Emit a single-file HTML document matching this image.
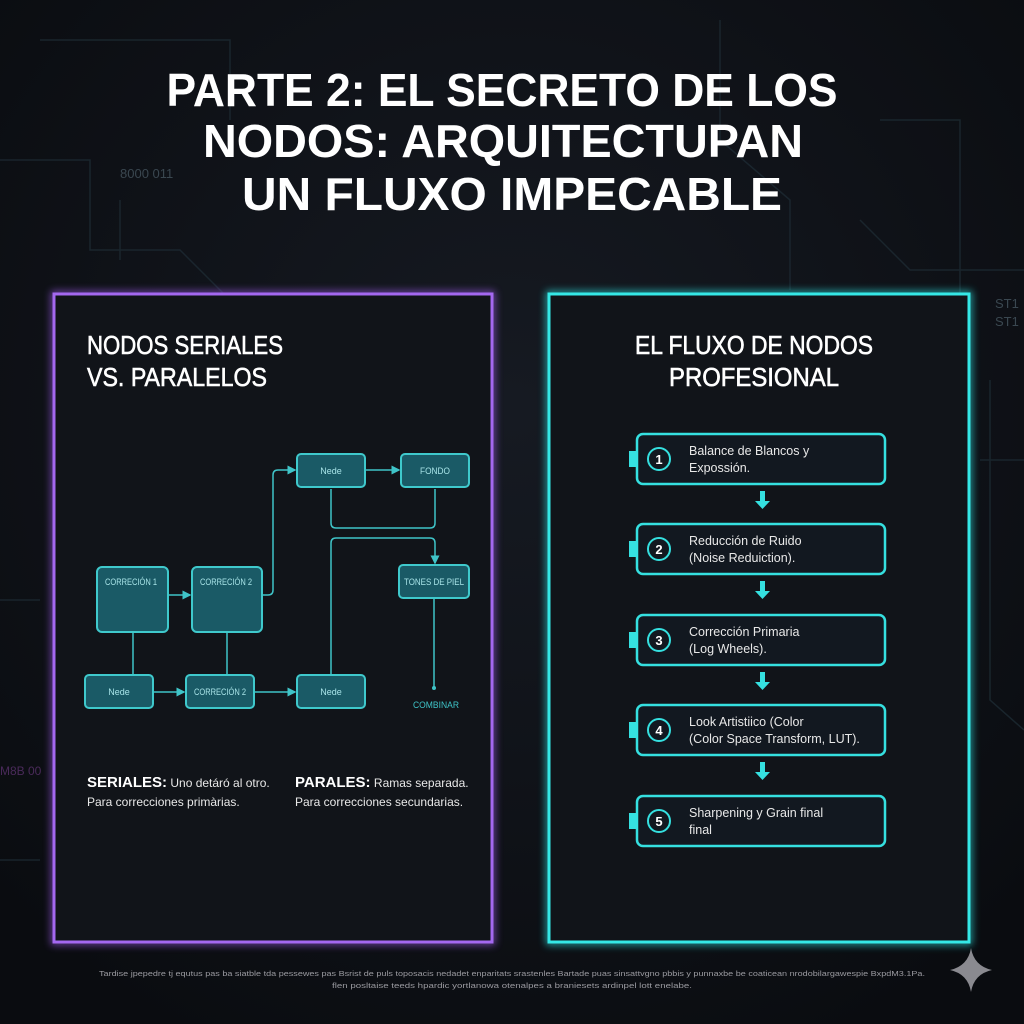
<!DOCTYPE html>
<html><head><meta charset="utf-8"><style>
html,body{margin:0;padding:0;background:#0d0f14;}
svg{display:block}
text{font-family:"Liberation Sans",sans-serif}
</style></head><body>
<svg width="1024" height="1024" viewBox="0 0 1024 1024" xmlns="http://www.w3.org/2000/svg">
<defs>
<radialGradient id="bg" cx="50%" cy="40%" r="70%"><stop offset="0" stop-color="#161a22"/><stop offset="1" stop-color="#0a0c10"/></radialGradient>
<filter id="glow" x="-10%" y="-10%" width="120%" height="120%"><feGaussianBlur stdDeviation="4"/></filter>
<marker id="ar" markerWidth="6" markerHeight="6" refX="5" refY="3" orient="auto"><path d="M0,0L6,3L0,6z" fill="#3fc4c8"/></marker>
</defs>
<rect width="1024" height="1024" fill="url(#bg)"/>
<g stroke="#1d2a33" stroke-width="1.5" fill="none" opacity="0.8">
<path d="M0,160H90V250H180L230,300V520"/><path d="M40,40H230V120"/><path d="M720,20V140L790,200V290"/><path d="M880,120H960V300"/><path d="M860,220L910,270H1024"/><path d="M0,600H40"/><path d="M990,380V700L1024,730"/><path d="M120,200V260"/><path d="M980,460H1024"/><path d="M0,860H40"/>
</g>
<text x="120" y="178" fill="#3a4750" font-size="13">8000 011</text>
<text x="995" y="308" fill="#3a4750" font-size="13">ST1</text>
<text x="995" y="326" fill="#3a4750" font-size="13">ST1</text>
<text x="0" y="775" fill="#4a2a5a" font-size="12">M8B 00</text>
<g fill="#fff" font-weight="bold" font-size="46" text-anchor="middle">
<text x="502" y="106" textLength="671" lengthAdjust="spacingAndGlyphs">PARTE 2: EL SECRETO DE LOS</text>
<text x="503" y="157" textLength="600" lengthAdjust="spacingAndGlyphs">NODOS: ARQUITECTUPAN</text>
<text x="512" y="210" textLength="540" lengthAdjust="spacingAndGlyphs">UN FLUXO IMPECABLE</text>
</g>
<rect x="54" y="294" width="438" height="648" fill="none" stroke="#9b5ce8" stroke-width="6" filter="url(#glow)" opacity="0.7"/>
<rect x="54" y="294" width="438" height="648" fill="#111419" stroke="#a468f0" stroke-width="3"/>
<rect x="549" y="294" width="420" height="648" fill="none" stroke="#2ee6e6" stroke-width="6" filter="url(#glow)" opacity="0.7"/>
<rect x="549" y="294" width="420" height="648" fill="#111419" stroke="#35e8e6" stroke-width="3"/>
<g fill="#fff" font-size="26" stroke="#fff" stroke-width="0.6">
<text x="87" y="354" textLength="196" lengthAdjust="spacingAndGlyphs">NODOS SERIALES</text>
<text x="87" y="386" textLength="180" lengthAdjust="spacingAndGlyphs">VS. PARALELOS</text>
<text x="754" y="354" text-anchor="middle" textLength="238" lengthAdjust="spacingAndGlyphs">EL FLUXO DE NODOS</text>
<text x="754" y="386" text-anchor="middle" textLength="170" lengthAdjust="spacingAndGlyphs">PROFESIONAL</text>
</g>
<g stroke="#3fc4c8" stroke-width="1.5" fill="none">
<path d="M168,595H190" marker-end="url(#ar)"/>
<path d="M262,595H268Q273,595 273,590V475Q273,470 278,470H295" marker-end="url(#ar)"/>
<path d="M365,470H399" marker-end="url(#ar)"/>
<path d="M331,489V523Q331,528 336,528H430Q435,528 435,523V489"/>
<path d="M331,675V543Q331,538 336,538H430Q435,538 435,543V563" marker-end="url(#ar)"/>
<path d="M434,598V688"/>
<path d="M133,632V675M227,632V675"/>
<path d="M153,692H184" marker-end="url(#ar)"/>
<path d="M254,692H295" marker-end="url(#ar)"/>
</g>
<circle cx="434" cy="688" r="2" fill="#3fc4c8"/>
<g fill="#1a5a66" stroke="#3fc9cc" stroke-width="2">
<rect x="297" y="454" width="68" height="33" rx="4"/>
<rect x="401" y="454" width="68" height="33" rx="4"/>
<rect x="97" y="567" width="71" height="65" rx="5"/>
<rect x="192" y="567" width="70" height="65" rx="5"/>
<rect x="399" y="565" width="70" height="33" rx="4"/>
<rect x="85" y="675" width="68" height="33" rx="4"/>
<rect x="186" y="675" width="68" height="33" rx="4"/>
<rect x="297" y="675" width="68" height="33" rx="4"/>
</g>
<g fill="#a8e4e8" font-size="9" text-anchor="middle">
<text x="331" y="474">Nede</text><text x="435" y="474" textLength="30" lengthAdjust="spacingAndGlyphs">FONDO</text>
<text x="131" y="585" textLength="52" lengthAdjust="spacingAndGlyphs">CORRECIÓN 1</text><text x="226" y="585" textLength="52" lengthAdjust="spacingAndGlyphs">CORRECIÓN 2</text>
<text x="434" y="585" textLength="60" lengthAdjust="spacingAndGlyphs">TONES DE PIEL</text>
<text x="119" y="695">Nede</text><text x="220" y="695" textLength="52" lengthAdjust="spacingAndGlyphs">CORRECIÓN 2</text><text x="331" y="695">Nede</text>
<text x="436" y="708" fill="#3fc4c8" textLength="46" lengthAdjust="spacingAndGlyphs">COMBINAR</text>
</g>
<g fill="#e8e8e8" font-size="12">
<text x="87" y="787"><tspan font-weight="bold" font-size="15" fill="#fff">SERIALES:</tspan> Uno detáró al otro.</text>
<text x="87" y="806">Para correcciones primàrias.</text>
<text x="295" y="787"><tspan font-weight="bold" font-size="15" fill="#fff">PARALES:</tspan> Ramas separada.</text>
<text x="295" y="806">Para correcciones secundarias.</text>
</g>
<g stroke="#35e0e0" stroke-width="2.5" fill="#121820">
<rect x="637" y="434" width="248" height="50" rx="6"/>
<rect x="637" y="524" width="248" height="50" rx="6"/>
<rect x="637" y="615" width="248" height="50" rx="6"/>
<rect x="637" y="705" width="248" height="50" rx="6"/>
<rect x="637" y="796" width="248" height="50" rx="6"/>
</g>
<g fill="#35e0e0">
<rect x="629" y="451" width="8" height="16"/><rect x="629" y="541" width="8" height="16"/><rect x="629" y="632" width="8" height="16"/><rect x="629" y="722" width="8" height="16"/><rect x="629" y="813" width="8" height="16"/>
<path d="M760,491h5v10h5l-7.5,8-7.5-8h5z"/><path d="M760,581h5v10h5l-7.5,8-7.5-8h5z"/><path d="M760,672h5v10h5l-7.5,8-7.5-8h5z"/><path d="M760,762h5v10h5l-7.5,8-7.5-8h5z"/>
</g>
<g stroke="#35e0e0" stroke-width="2" fill="none">
<circle cx="659" cy="459" r="11"/><circle cx="659" cy="549" r="11"/><circle cx="659" cy="640" r="11"/><circle cx="659" cy="730" r="11"/><circle cx="659" cy="821" r="11"/>
</g>
<g fill="#fff" font-size="13" font-weight="bold" text-anchor="middle">
<text x="659" y="464">1</text><text x="659" y="554">2</text><text x="659" y="645">3</text><text x="659" y="735">4</text><text x="659" y="826">5</text>
</g>
<g fill="#e8e8e8" font-size="12.5">
<text x="689" y="455">Balance de Blancos y</text><text x="689" y="472">Expossión.</text>
<text x="689" y="545">Reducción de Ruido</text><text x="689" y="562">(Noise Reduiction).</text>
<text x="689" y="636">Corrección Primaria</text><text x="689" y="653">(Log Wheels).</text>
<text x="689" y="726">Look Artistiico (Color</text><text x="689" y="743">(Color Space Transform, LUT).</text>
<text x="689" y="817">Sharpening y Grain final</text><text x="689" y="834">final</text>
</g>
<g fill="#9a9aa0" font-size="7.5" text-anchor="middle">
<text x="512" y="976" textLength="826" lengthAdjust="spacingAndGlyphs">Tardise jpepedre tj equtus pas ba siatble tda pessewes pas Bsrist de puls toposacis nedadet enparitats srastenles Bartade puas sinsattvgno pbbis y punnaxbe be coaticean nrodobilargawespie BxpdM3.1Pa.</text>
<text x="512" y="988" textLength="360" lengthAdjust="spacingAndGlyphs">flen posltaise teeds hpardic yortlanowa otenalpes a braniesets ardinpel lott enelabe.</text>
</g>
<path d="M971,948Q974,966 992,970Q974,974 971,992Q968,974 950,970Q968,966 971,948z" fill="#8a8a90"/>
</svg>
</body></html>
